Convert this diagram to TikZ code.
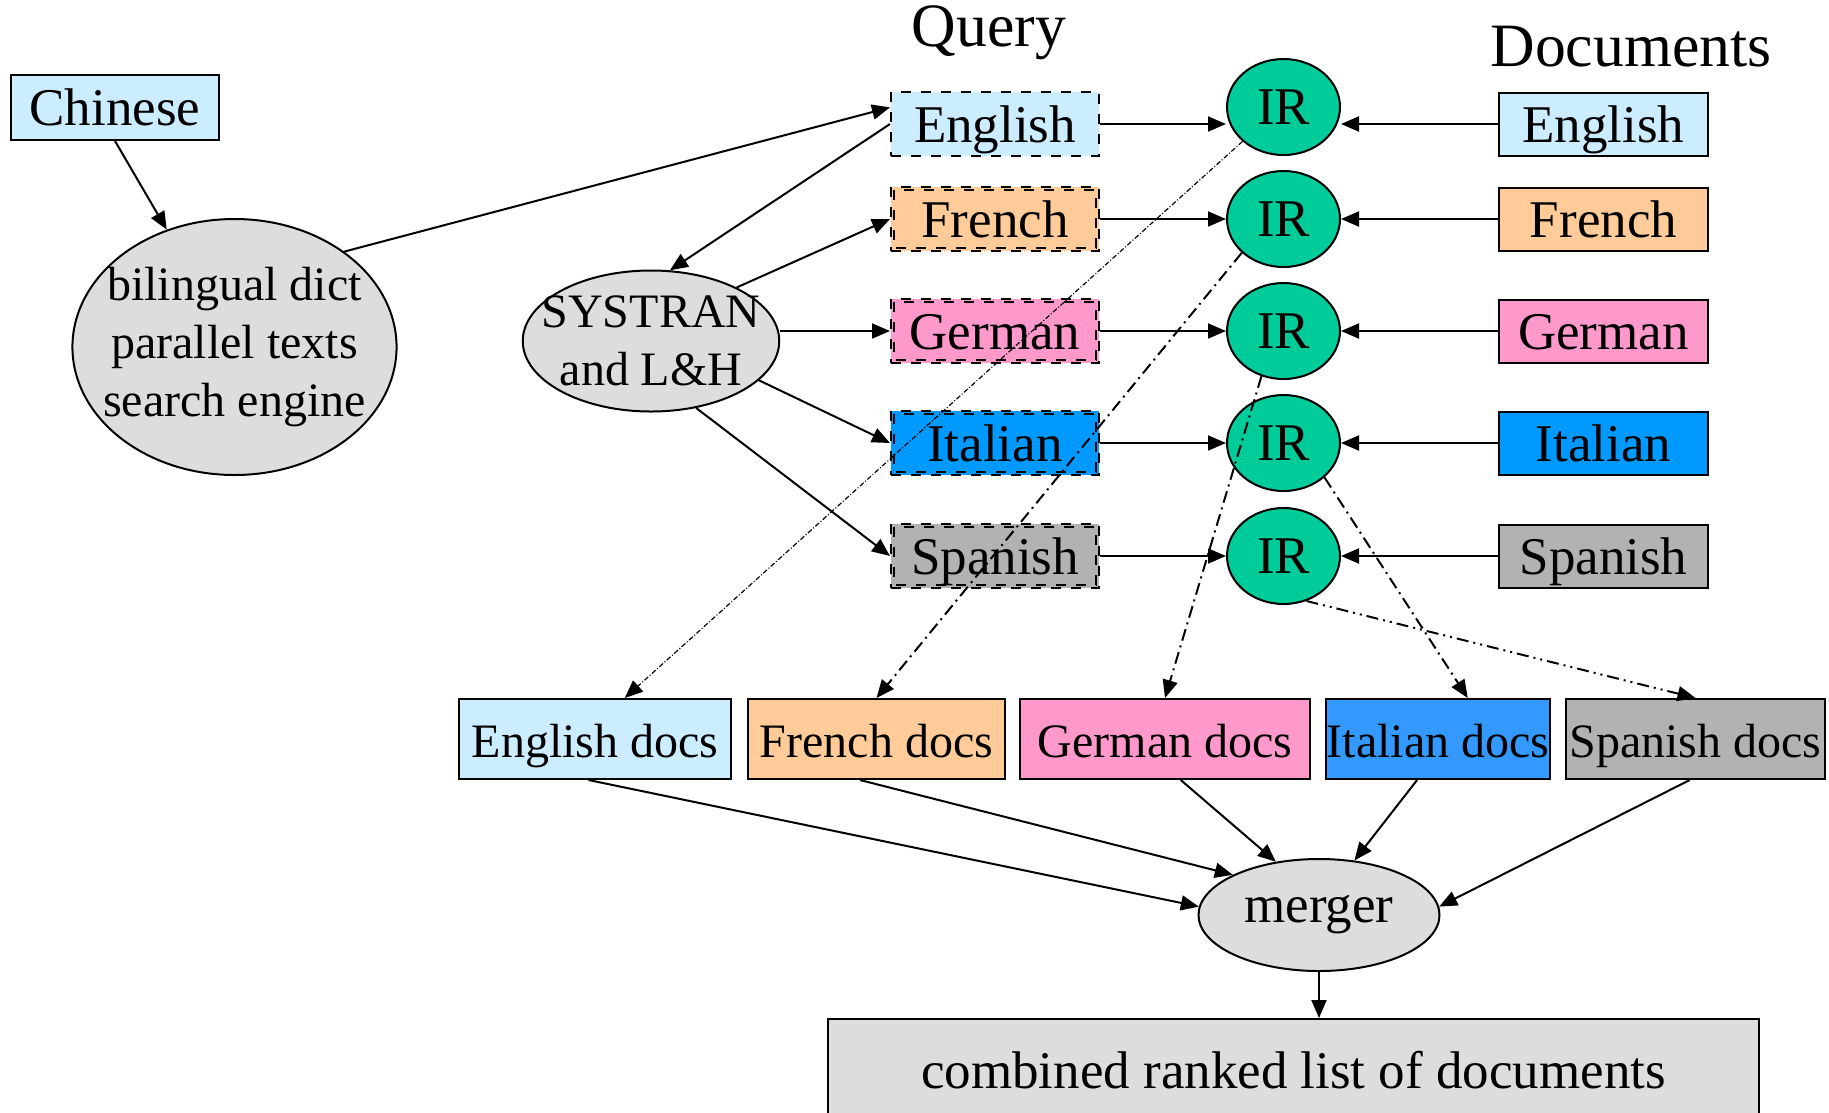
\documentclass[tikz,border=0pt]{standalone}
\usepackage{fontspec}
\setmainfont{Liberation Serif}
\usetikzlibrary{arrows.meta,shapes.geometric}

\definecolor{paleblue}{HTML}{CCECFF}
\definecolor{peach}{HTML}{FFCC99}
\definecolor{rosecol}{HTML}{FF99CC}
\definecolor{skyblue}{HTML}{0099FF}
\definecolor{docblue}{HTML}{3399FF}
\definecolor{midgray}{HTML}{B2B2B2}
\definecolor{nodegray}{HTML}{DDDDDD}
\definecolor{irgreen}{HTML}{00CC99}

\newcommand{\bigtxt}{\fontsize{15.9}{18}\selectfont}
\newcommand{\smalltxt}{\fontsize{14.4}{17.4}\selectfont}
\newcommand{\headtxt}{\fontsize{18.5}{22}\selectfont}

\tikzset{
	box/.style={draw, rectangle, inner sep=0pt, line width=0.6pt, font=\bigtxt,
		text height=11pt, text depth=0pt},
	qbox/.style={box, dashed, minimum width=62.4pt, minimum height=19.2pt},
	dbox/.style={box, minimum width=62.7pt, minimum height=18.9pt},
	rowbox/.style={box, minimum height=24pt, font=\smalltxt, text height=11.2pt},
	irnode/.style={draw, ellipse, fill=irgreen, line width=0.6pt, inner sep=0pt,
		minimum width=33.9pt, minimum height=28.8pt, font=\bigtxt},
	blob/.style={draw, ellipse, fill=nodegray, line width=0.6pt, inner sep=0pt, align=center},
	link/.style={-{Triangle[length=5.4pt,width=4.5pt]}, line width=0.6pt},
	hit/.style={link, dash pattern=on 3.6pt off 1.5pt on 0.6pt off 1.5pt},
	hitdd/.style={link, dash pattern=on 3.6pt off 1.5pt on 0.6pt off 1.5pt on 0.6pt off 1.5pt},
	hitfine/.style={link, line width=0.35pt, dash pattern=on 1.5pt off 0.6pt on 0.3pt off 0.6pt}
}

\begin{document}
\begin{tikzpicture}[x=0.3pt, y=-0.3pt]
	\useasboundingbox (0,0) rectangle (1829,1112);
	\clip (0,0) rectangle (1829,1112);
	
	% headings
	\node[font=\headtxt] (qhead) at (989,33) {Query};
	\node[font=\headtxt] (dhead) at (1631,47) {Documents};
	
	% source side
	\node[box, fill=paleblue, minimum width=62.4pt, minimum height=19.5pt] (chin) at (115,107.5) {Chinese};
	\node[blob, inner xsep=-5pt, minimum width=96.3pt, minimum height=76.8pt, font=\smalltxt] (bil) at (234.5,347)
		{bilingual dict\\parallel texts\\search engine};
	\node[blob, inner xsep=-5.6pt, inner ysep=-0.5pt, minimum width=76.8pt, minimum height=42.3pt, font=\smalltxt] (sys) at (651,341)
		{SYSTRAN\\and L\&H};
	
	% query boxes
	\node[qbox, fill=paleblue] (qen) at (995,124) {English};
	\node[qbox, fill=peach] (qfr) at (995,219) {French};
	\node[qbox, fill=rosecol] (qde) at (995,331) {German};
	\node[qbox, fill=skyblue] (qit) at (995,443) {Italian};
	\node[qbox, fill=midgray] (qsp) at (995,556) {Spanish};
	\foreach \n in {qfr,qde,qit,qsp}
		\draw[dashed, line width=0.6pt] ([shift={(1.2pt,-1.2pt)}]\n.north west) rectangle ([shift={(-1.2pt,1.2pt)}]\n.south east);
	
	% retrieval
	\node[irnode] (ir1) at (1283.5,107) {IR};
	\node[irnode] (ir2) at (1283.5,219) {IR};
	\node[irnode] (ir3) at (1283.5,331) {IR};
	\node[irnode] (ir4) at (1283.5,443) {IR};
	\node[irnode] (ir5) at (1283.5,556) {IR};
	
	% document collections
	\node[dbox, fill=paleblue] (den) at (1603.5,124) {English};
	\node[dbox, fill=peach] (dfr) at (1603.5,219) {French};
	\node[dbox, fill=rosecol] (dde) at (1603.5,331) {German};
	\node[dbox, fill=skyblue] (dit) at (1603.5,443) {Italian};
	\node[dbox, fill=midgray] (dsp) at (1603.5,556) {Spanish};
	
	% retrieved docs
	\node[rowbox, fill=paleblue, minimum width=81.6pt] (edoc) at (595,739) {English docs};
	\node[rowbox, fill=peach, minimum width=77.1pt] (fdoc) at (876.5,739) {French docs};
	\node[rowbox, fill=rosecol, minimum width=87pt] (gdoc) at (1165,739) {German docs};
	\node[rowbox, fill=docblue, minimum width=67.2pt] (idoc) at (1438,739) {Italian docs};
	\node[rowbox, fill=midgray, minimum width=77.7pt] (sdoc) at (1695.5,739) {Spanish docs};
	
	\node[blob, minimum width=72.3pt, minimum height=33.6pt, font=\bigtxt] (merger) at (1319,915) {merger};
	\node[box, fill=nodegray, minimum width=279.3pt, minimum height=30.6pt] (comb) at (1293.5,1070)
		{combined ranked list of documents};
	
	% translation
	\draw[link] (chin.south) -- (bil.120);
	\draw[link] (bil.41) -- (qen.171);
	\draw[link] (qen.west) -- (sys.75);
	\draw[link] (sys.32) -- (qfr.west);
	\draw[link] (qde.west -| sys.east) -- (qde);
	\draw[link] (sys.340) -- (qit.west);
	\draw[link] (sys.304) -- (qsp.west);
	
	% into IR
	\foreach \q/\i/\d in {qen/ir1/den, qfr/ir2/dfr, qde/ir3/dde, qit/ir4/dit, qsp/ir5/dsp} {
		\draw[link] (\q.east) -- (\q.east -| \i.west);
		\draw[link] (\d.west) -- (\d.west -| \i.east);
	}
	
	% results
	\draw[hitfine] (ir1.220) -- (edoc.54);
	\draw[hit] (ir2.219) -- (fdoc.north);
	\draw[hit] (ir3.244) -- (gdoc.north);
	\draw[hit] (ir4.320) -- (idoc.54);
	\draw[hitdd] (ir5.297) -- (sdoc.north);
	
	% merging
	\draw[link] (edoc.261) -- (merger.176);
	\draw[link] (fdoc.248) -- (merger.155);
	\draw[link] (gdoc.291) -- (merger.129);
	\draw[link] (idoc.243) -- (merger.57);
	\draw[link] (sdoc.262) -- (merger.4);
	\draw[link] (merger.south) -- (merger.south |- comb.north);
\end{tikzpicture}
\end{document}
